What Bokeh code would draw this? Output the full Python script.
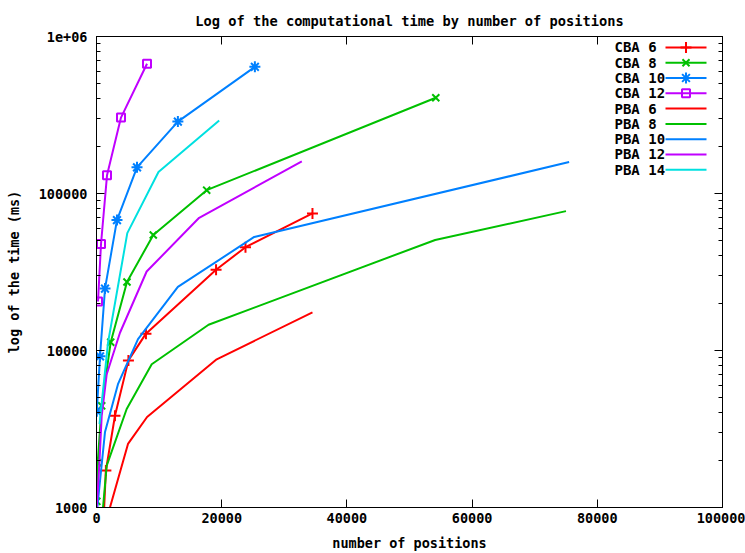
from bokeh.plotting import figure
from bokeh.models import (Range1d, LinearScale, LogAxis, LinearAxis, FixedTicker,
                          CustomJSTickFormatter, NumeralTickFormatter)
from bokeh.embed import file_html
from bokeh.resources import INLINE
from bokeh.core.properties import value

# ---------------- data ----------------
title_text = "Log of the computational time by number of positions"
x_label = "number of positions"
y_label = "log of the time (ms)"
x_ticks = [0, 20000, 40000, 60000, 80000, 100000]
y_ticks = [1000, 10000, 100000, 1000000]
y_tick_labels = ["1000", "10000", "100000", "1e+06"]
y_minor_ticks = [m * 10 ** e for e in (3, 4, 5) for m in range(2, 10)]

series_names = ["CBA 6", "CBA 8", "CBA 10", "CBA 12",
                "PBA 6", "PBA 8", "PBA 10", "PBA 12", "PBA 14"]

cba6_x = [1200, 1500, 2950, 5100, 7900, 19100, 23800, 34500]
cba6_y = [950, 1720, 3840, 8650, 12800, 32700, 45500, 74700]

cba8_x = [50, 190, 830, 2270, 4870, 9070, 17600, 54200]
cba8_y = [1095, 1930, 4440, 11300, 27300, 54400, 105000, 407500]

cba10_x = [50, 560, 1360, 3270, 6470, 13000, 25300]
cba10_y = [4110, 9180, 24800, 67700, 146800, 287000, 641000]

cba12_x = [240, 720, 1680, 3910, 8070]
cba12_y = [20500, 47700, 130600, 304500, 670000]

pba6_x = [2150, 5030, 8080, 19200, 34500]
pba6_y = [1000, 2540, 3770, 8790, 17500]

pba8_x = [1040, 1630, 4820, 8820, 17900, 54100, 75000]
pba8_y = [1000, 1850, 4240, 8170, 14600, 50600, 77200]

pba10_x = [130, 1360, 3430, 6630, 13000, 25200, 75500]
pba10_y = [1000, 3030, 6100, 11800, 25400, 52900, 158500]

pba12_x = [30, 450, 830, 1630, 3750, 8010, 16400, 32800]
pba12_y = [1000, 1860, 3840, 7060, 12970, 31850, 70000, 160300]

pba14_x = [480, 1840, 4920, 9900, 19600]
pba14_y = [3400, 11200, 55900, 137000, 291500]

# ---------------- style ----------------
RED, GREEN, BLUE, PURPLE, CYAN = "#ff0000", "#00c000", "#0080ff", "#c000ff", "#00e0e0"
FONT = "DejaVu Sans Mono"
FS = "13.5px"

series = [
    (cba6_x, cba6_y, RED, "cross"),
    (cba8_x, cba8_y, GREEN, "x"),
    (cba10_x, cba10_y, BLUE, "asterisk"),
    (cba12_x, cba12_y, PURPLE, "square"),
    (pba6_x, pba6_y, RED, None),
    (pba8_x, pba8_y, GREEN, None),
    (pba10_x, pba10_y, BLUE, None),
    (pba12_x, pba12_y, PURPLE, None),
    (pba14_x, pba14_y, CYAN, None),
]
marker_sizes = {"cross": 11, "x": 10, "asterisk": 11, "square": 8}

W, H = 745, 553
p = figure(width=W, height=H, x_range=Range1d(0, 100000), y_range=Range1d(1000, 1e6),
           y_axis_type="log", output_backend="svg", toolbar_location=None,
           min_border_left=96, min_border_right=23, min_border_top=36, min_border_bottom=44,
           background_fill_color="white", border_fill_color="white",
           outline_line_color="black", outline_line_width=1)

p.title.text = title_text
p.title.align = "center"
p.title.text_font = FONT
p.title.text_font_style = "bold"
p.title.text_font_size = "13.7px"
p.title.text_color = "black"
p.title.standoff = 16

p.xgrid.visible = False
p.ygrid.visible = False

def style_axis(ax):
    ax.axis_line_color = "black"
    ax.major_tick_line_color = "black"
    ax.minor_tick_line_color = "black"
    ax.major_tick_in = 8
    ax.major_tick_out = 0
    ax.minor_tick_in = 4
    ax.minor_tick_out = 0
    ax.major_label_text_font = FONT
    ax.major_label_text_font_style = "bold"
    ax.major_label_text_font_size = FS
    ax.major_label_text_color = "black"
    ax.axis_label_text_font = FONT
    ax.axis_label_text_font_style = "bold"
    ax.axis_label_text_font_size = FS
    ax.axis_label_text_color = "black"

xax = p.xaxis[0]
xax.ticker = FixedTicker(ticks=x_ticks)
xax.formatter = NumeralTickFormatter(format="0")
xax.axis_label = x_label
style_axis(xax)
xax.major_label_standoff = 5
xax.axis_label_standoff = 9

yax = p.yaxis[0]
yax.ticker = FixedTicker(ticks=y_ticks, minor_ticks=y_minor_ticks)
yax.formatter = CustomJSTickFormatter(args=dict(yt=y_ticks, yl=y_tick_labels), code="""
for (let i = 0; i < yt.length; i++) {
  if (Math.abs(yt[i] - tick) / yt[i] < 1e-6) return yl[i];
}
return '';
""")
yax.axis_label = y_label
style_axis(yax)
yax.major_label_standoff = 9
yax.axis_label_standoff = 14

rax = LogAxis(ticker=FixedTicker(ticks=y_ticks, minor_ticks=y_minor_ticks),
              formatter=CustomJSTickFormatter(code="return '';"))
style_axis(rax)
rax.major_label_standoff = 0
rax.major_label_text_font_size = "0px"
p.add_layout(rax, "right")

tax = LinearAxis(ticker=FixedTicker(ticks=x_ticks), formatter=CustomJSTickFormatter(code="return '';"))
style_axis(tax)
tax.major_label_standoff = 0
tax.major_label_text_font_size = "0px"
p.add_layout(tax, "above")

# ---------------- series ----------------
for xs, ys, color, marker in series:
    p.line(xs, ys, line_color=color, line_width=2)
    if marker:
        p.scatter(xs, ys, marker=marker, size=marker_sizes[marker], line_color=color,
                  fill_color=None, line_width=2)

# ---------------- legend (gnuplot style: label then sample) ----------------
FRAME_W, FRAME_H = 626, 473
p.extra_x_ranges = {"px": Range1d(0, FRAME_W)}
p.extra_y_ranges = {"px": Range1d(FRAME_H, 0)}
p.extra_x_scales = {"px": LinearScale()}
p.extra_y_scales = {"px": LinearScale()}

row0, row_step = 11.0, 15.35
text_x, seg_x0, seg_x1 = 518, 569, 610
rows = [row0 + row_step * i for i in range(len(series_names))]

p.text(x=[text_x] * len(series_names), y=rows, text=series_names,
       text_font=value(FONT), text_font_style="bold", text_font_size="14px",
       text_color="black", text_baseline="middle", text_align="left",
       x_range_name="px", y_range_name="px")
for (xs, ys, color, marker), ry in zip(series, rows):
    p.segment(x0=[seg_x0], y0=[ry], x1=[seg_x1], y1=[ry], line_color=color, line_width=2,
              x_range_name="px", y_range_name="px")
    if marker:
        p.scatter(x=[(seg_x0 + seg_x1) / 2], y=[ry], marker=marker, size=marker_sizes[marker],
                  line_color=color, fill_color=None, line_width=2,
                  x_range_name="px", y_range_name="px")

open("out.html", "w").write(file_html(p, INLINE))
